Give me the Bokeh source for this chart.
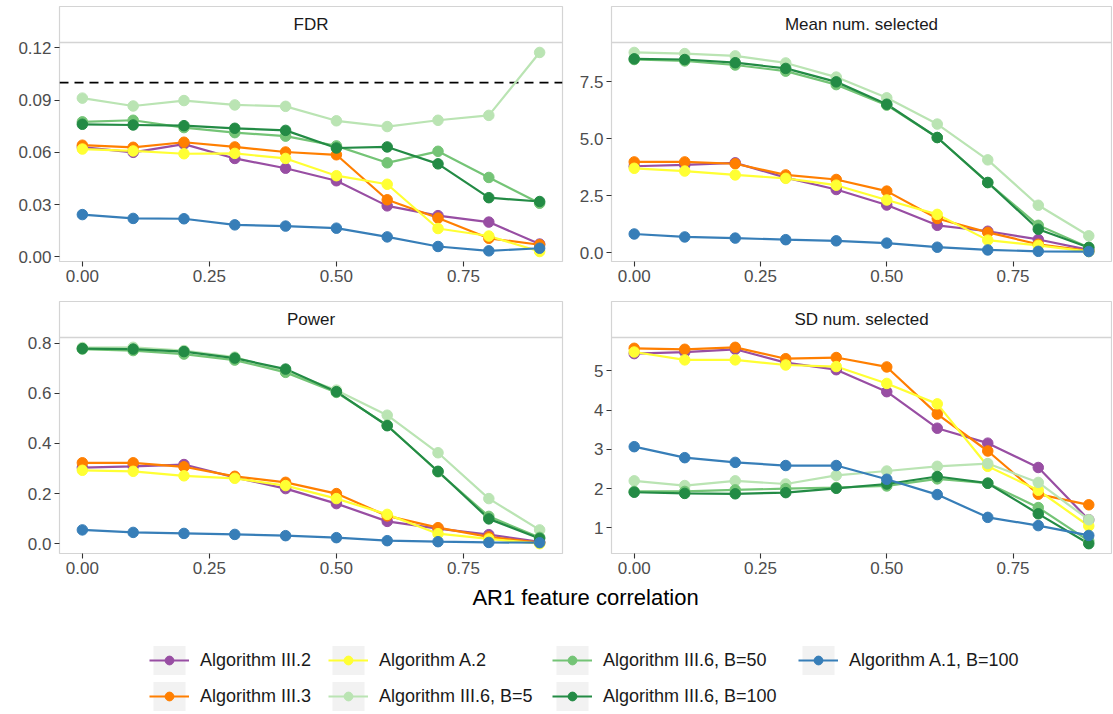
from bokeh.plotting import figure
from bokeh.models import (Range1d, FixedTicker, PrintfTickFormatter, Span, Label,
                          Legend, LegendItem)
from bokeh.core.properties import value
from bokeh.layouts import row, column
from bokeh.embed import file_html
from bokeh.resources import INLINE

FONT = "Liberation Sans"
BORDER = "#D4D4D4"

# ---------------- data ----------------
CORR = [0.0, 0.1, 0.2, 0.3, 0.4, 0.5, 0.6, 0.7, 0.8, 0.9]
X_TICKS = [0.0, 0.25, 0.5, 0.75]

SERIES = ["Algorithm III.2", "Algorithm III.3", "Algorithm A.2",
          "Algorithm III.6, B=5", "Algorithm III.6, B=50",
          "Algorithm III.6, B=100", "Algorithm A.1, B=100"]
COLORS = ["#984EA3", "#FF7F00", "#FFFF33", "#BAE4B3", "#74C476", "#238B45", "#377EB8"]

FDR = {
    "Algorithm III.2": [0.0630, 0.0600, 0.0647, 0.0565, 0.0509, 0.0437, 0.0293, 0.0237, 0.0200, 0.0074],
    "Algorithm III.3": [0.0641, 0.0629, 0.0658, 0.0631, 0.0602, 0.0586, 0.0328, 0.0223, 0.0107, 0.0070],
    "Algorithm A.2": [0.0619, 0.0608, 0.0592, 0.0594, 0.0565, 0.0466, 0.0417, 0.0163, 0.0120, 0.0031],
    "Algorithm III.6, B=5": [0.0911, 0.0866, 0.0897, 0.0872, 0.0864, 0.0781, 0.0748, 0.0784, 0.0812, 0.1173],
    "Algorithm III.6, B=50": [0.0775, 0.0784, 0.0742, 0.0713, 0.0693, 0.0637, 0.0540, 0.0606, 0.0456, 0.0308],
    "Algorithm III.6, B=100": [0.0761, 0.0757, 0.0753, 0.0738, 0.0726, 0.0625, 0.0631, 0.0534, 0.0340, 0.0318],
    "Algorithm A.1, B=100": [0.0243, 0.0221, 0.0219, 0.0184, 0.0177, 0.0165, 0.0115, 0.0060, 0.0035, 0.0050],
}
FDR_TARGET = 0.1
FDR_TICKS = [0.0, 0.03, 0.06, 0.09, 0.12]

MEAN_SEL = {
    "Algorithm III.2": [3.80, 3.86, 3.95, 3.30, 2.78, 2.10, 1.21, 0.95, 0.59, 0.13],
    "Algorithm III.3": [3.99, 3.99, 3.91, 3.42, 3.22, 2.71, 1.51, 0.90, 0.38, 0.09],
    "Algorithm A.2": [3.71, 3.59, 3.42, 3.27, 2.97, 2.32, 1.69, 0.56, 0.33, 0.06],
    "Algorithm III.6, B=5": [8.79, 8.74, 8.64, 8.33, 7.71, 6.80, 5.65, 4.08, 2.09, 0.75],
    "Algorithm III.6, B=50": [8.48, 8.42, 8.24, 7.97, 7.38, 6.48, 5.06, 3.08, 1.21, 0.24],
    "Algorithm III.6, B=100": [8.51, 8.48, 8.34, 8.09, 7.50, 6.52, 5.06, 3.09, 1.04, 0.24],
    "Algorithm A.1, B=100": [0.83, 0.70, 0.65, 0.58, 0.53, 0.43, 0.25, 0.13, 0.07, 0.06],
}
MEAN_TICKS = [0.0, 2.5, 5.0, 7.5]

POWER = {
    "Algorithm III.2": [0.304, 0.309, 0.316, 0.265, 0.220, 0.160, 0.089, 0.060, 0.036, 0.007],
    "Algorithm III.3": [0.323, 0.323, 0.307, 0.269, 0.245, 0.200, 0.111, 0.064, 0.027, 0.004],
    "Algorithm A.2": [0.293, 0.289, 0.271, 0.261, 0.232, 0.180, 0.117, 0.040, 0.019, 0.000],
    "Algorithm III.6, B=5": [0.783, 0.784, 0.771, 0.745, 0.687, 0.613, 0.513, 0.363, 0.180, 0.055],
    "Algorithm III.6, B=50": [0.777, 0.771, 0.757, 0.733, 0.684, 0.604, 0.473, 0.287, 0.109, 0.025],
    "Algorithm III.6, B=100": [0.779, 0.777, 0.767, 0.741, 0.697, 0.607, 0.471, 0.289, 0.099, 0.021],
    "Algorithm A.1, B=100": [0.055, 0.045, 0.041, 0.037, 0.032, 0.024, 0.012, 0.008, 0.005, 0.004],
}
POWER_TICKS = [0.0, 0.2, 0.4, 0.6, 0.8]

SD_SEL = {
    "Algorithm III.2": [5.44, 5.48, 5.55, 5.21, 5.03, 4.47, 3.54, 3.16, 2.54, 1.21],
    "Algorithm III.3": [5.575, 5.55, 5.60, 5.31, 5.34, 5.10, 3.90, 2.96, 1.86, 1.59],
    "Algorithm A.2": [5.48, 5.28, 5.28, 5.15, 5.11, 4.68, 4.16, 2.57, 1.96, 1.05],
    "Algorithm III.6, B=5": [2.20, 2.08, 2.20, 2.12, 2.34, 2.45, 2.57, 2.64, 2.16, 1.21],
    "Algorithm III.6, B=50": [1.93, 1.93, 1.97, 2.00, 2.03, 2.07, 2.25, 2.14, 1.52, 0.67],
    "Algorithm III.6, B=100": [1.91, 1.88, 1.87, 1.90, 2.01, 2.12, 2.31, 2.14, 1.36, 0.60],
    "Algorithm A.1, B=100": [3.07, 2.79, 2.67, 2.59, 2.59, 2.24, 1.85, 1.27, 1.06, 0.81],
}
SD_TICKS = [1, 2, 3, 4, 5]

X_TITLE = "AR1 feature correlation"


def expand(vals, frac=0.05):
    lo, hi = min(vals), max(vals)
    d = (hi - lo) * frac
    return lo - d, hi + d


def panel(title, data, ticks, fmt, mb_left, mb_right, fw, fh, strip_h, mb_top, mb_bottom, hline=None):
    vals = [v for s in SERIES for v in data[s]]
    if hline is not None:
        vals.append(hline)
    ylo, yhi = expand(vals)
    panel_h = fh - strip_h
    ytop = yhi + (yhi - ylo) * strip_h / panel_h
    xlo, xhi = expand(CORR)

    p = figure(frame_width=fw, frame_height=fh,
               x_range=Range1d(xlo, xhi), y_range=Range1d(ylo, ytop),
               output_backend="svg", toolbar_location=None,
               min_border_left=mb_left, min_border_right=mb_right,
               min_border_top=mb_top, min_border_bottom=mb_bottom)
    p.outline_line_color = BORDER
    p.outline_line_width = 1.2
    p.background_fill_color = "white"
    p.border_fill_color = "white"
    p.grid.visible = False

    for ax in (p.xaxis[0], p.yaxis[0]):
        ax.axis_line_color = None
        ax.major_tick_line_color = "#333333"
        ax.major_tick_line_width = 1.1
        ax.major_tick_out = 5
        ax.major_tick_in = 0
        ax.minor_tick_line_color = None
        ax.major_label_standoff = 3
        ax.major_label_text_font = FONT
        ax.major_label_text_font_size = "17px"
        ax.major_label_text_color = "#4D4D4D"
    p.xaxis[0].ticker = FixedTicker(ticks=X_TICKS)
    p.xaxis[0].formatter = PrintfTickFormatter(format="%.2f")
    p.yaxis[0].ticker = FixedTicker(ticks=ticks)
    p.yaxis[0].formatter = PrintfTickFormatter(format=fmt)
    p.yaxis[0].bounds = (ylo, yhi)

    # strip
    p.add_layout(Span(location=yhi, dimension="width", line_color=BORDER, line_width=1.4))
    p.add_layout(Label(x=(xlo + xhi) / 2, y=(yhi + ytop) / 2, text=title,
                       text_align="center", text_baseline="middle",
                       text_font=FONT, text_font_size="17px", text_color="#1A1A1A"))

    if hline is not None:
        p.add_layout(Span(location=hline, dimension="width", line_color="black",
                          line_width=1.8, line_dash="9 6", level="underlay"))

    for s, c in zip(SERIES, COLORS):
        p.line(CORR, data[s], line_color=c, line_width=2.2)
    for s, c in zip(SERIES, COLORS):
        p.scatter(CORR, data[s], size=10.5, fill_color=c, line_color=c)
    return p


# left column: frame x 59..562, right column: frame x 611..1111
p1 = panel("FDR", FDR, FDR_TICKS, "%.2f", 59, 8, 503, 255, 36, 6, 39, hline=FDR_TARGET)
p2 = panel("Mean num. selected", MEAN_SEL, MEAN_TICKS, "%.1f", 41, 1, 500, 255, 36, 6, 39)
p3 = panel("Power", POWER, POWER_TICKS, "%.1f", 59, 8, 503, 252, 36, 1, 30)
p4 = panel("SD num. selected", SD_SEL, SD_TICKS, "%d", 41, 1, 500, 252, 36, 1, 30)

# ---------------- axis title + legend ----------------
LW, LH = 1112, 131
pl = figure(width=LW, height=LH, x_range=Range1d(5, 6), y_range=Range1d(5, 6),
            output_backend="svg", toolbar_location=None,
            x_axis_location=None, y_axis_location=None, min_border=0)
pl.outline_line_color = None
pl.grid.visible = False
pl.background_fill_color = "white"
pl.border_fill_color = "white"

pl.add_layout(Label(x=585, y=LH - 14, x_units="screen", y_units="screen", text=X_TITLE,
                    text_align="center", text_baseline="middle",
                    text_font=FONT, text_font_size="22px", text_color="black"))

# legend-only renderers (their data lies outside this figure's ranges)
key_items, dot_items = [], []
for s, c in zip(SERIES, COLORS):
    rb = pl.rect(CORR, MEAN_SEL[s], width=0.05, height=0.05, fill_color="#F2F2F2", line_color=None)
    rl = pl.line(CORR, MEAN_SEL[s], line_color=c, line_width=2.2)
    rs = pl.scatter(CORR, MEAN_SEL[s], size=9, fill_color=c, line_color=c)
    key_items.append(LegendItem(label=s, renderers=[rb, rl]))
    dot_items.append(LegendItem(label=value(""), renderers=[rs]))

col_groups = [[0, 1], [2, 3], [4, 5], [6]]
col_x = [149, 328, 552, 798]
GH = 36          # key row height
DH = 22          # height of marker glyph area (marker = 0.4 * DH)
TOP = 59         # legend top, px from figure top
for grp, cx in zip(col_groups, col_x):
    n = len(grp)
    lg = Legend(items=[key_items[i] for i in grp], orientation="vertical",
                location=(cx, LH - TOP - GH * n),
                glyph_width=40, glyph_height=GH, spacing=0, padding=0, margin=0,
                label_standoff=11, label_height=GH,
                label_text_font=FONT, label_text_font_size="18px", label_text_color="#1A1A1A",
                border_line_color=None, background_fill_alpha=0)
    pl.add_layout(lg)
    top2 = TOP + (GH - DH) / 2
    lg2 = Legend(items=[dot_items[i] for i in grp], orientation="vertical",
                 location=(cx, LH - top2 - (DH * n + (GH - DH) * (n - 1))),
                 glyph_width=40, glyph_height=DH, spacing=GH - DH, padding=0, margin=0,
                 label_standoff=0, label_height=DH, label_width=0,
                 label_text_font_size="1px",
                 border_line_color=None, background_fill_alpha=0)
    pl.add_layout(lg2)

layout = column(row(p1, p2), row(p3, p4), pl)

with open("out.html", "w") as f:
    f.write(file_html(layout, INLINE))
